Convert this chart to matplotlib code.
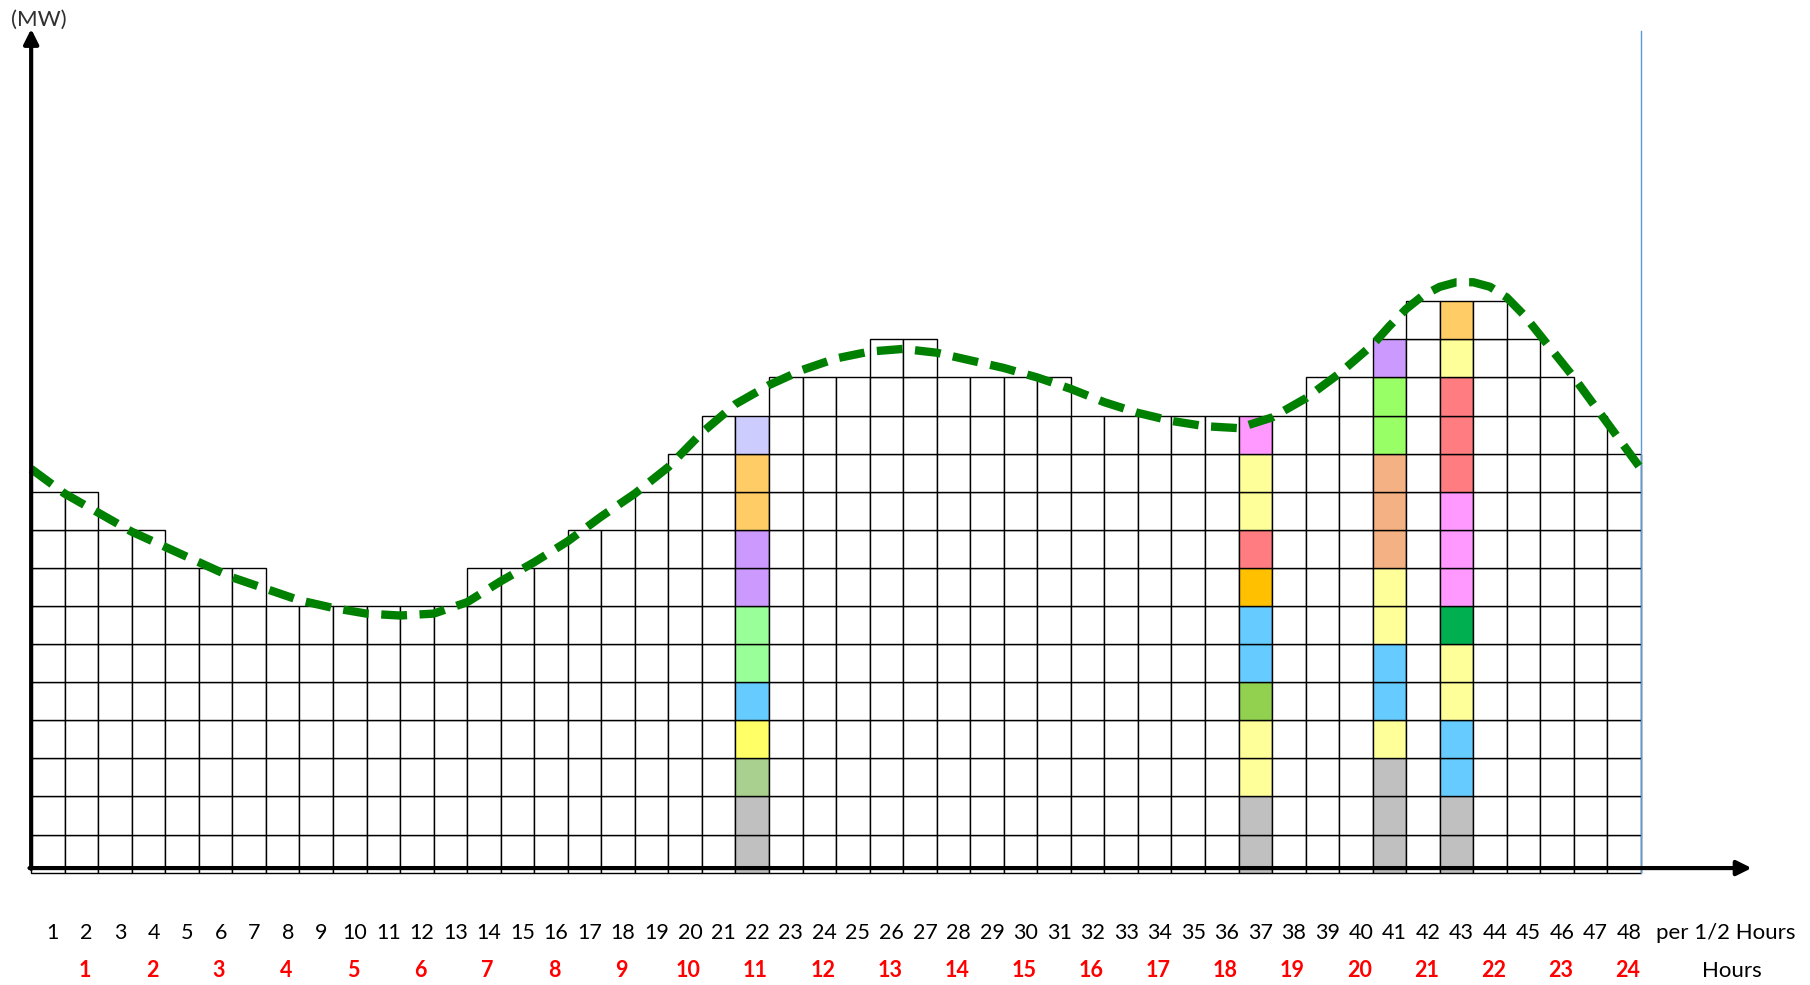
"""Half-hourly load blocks with colored unit stacks and a smooth demand curve."""
import numpy as np
import matplotlib
import matplotlib.pyplot as plt

matplotlib.use("Agg")

# number of grid cells per half hour (48 periods)
heights = [10, 10, 9, 9, 8, 8, 8, 7, 7, 7, 7, 7, 7, 8, 8, 8, 9, 9, 10, 11, 12, 12,
           13, 13, 13, 14, 14, 13, 13, 13, 13, 12, 12, 12, 12, 12, 12, 12, 13, 13,
           14, 15, 15, 15, 14, 13, 12, 11]

# coloured stacks, bottom to top
GR, YL, BL = '#c0c0c0', '#ffff99', '#66ccff'
stack_22 = [GR, GR, '#a9d08e', '#ffff66', BL, '#99ff99', '#99ff99', '#cc99ff',
            '#cc99ff', '#ffcc66', '#ffcc66', '#ccccff']
stack_37 = [GR, GR, YL, YL, '#92d050', BL, BL, '#ffc000', '#ff7c80', YL, YL, '#ff99ff']
stack_41 = [GR, GR, GR, YL, BL, BL, YL, YL, '#f4b183', '#f4b183', '#f4b183',
            '#99ff66', '#99ff66', '#cc99ff']
stack_43 = [GR, GR, BL, BL, YL, YL, '#00b050', '#ff99ff', '#ff99ff', '#ff99ff',
            '#ff7c80', '#ff7c80', '#ff7c80', YL, '#ffcc66']
stacks = {22: stack_22, 37: stack_37, 41: stack_41, 43: stack_43}

# demand curve
curve_x = [0, 1, 2, 3, 4, 5, 6, 7, 8, 9, 10, 11, 12, 13, 14, 15, 16, 17, 18, 19, 20,
           21, 22, 23, 24, 25, 26, 27, 28, 29, 30, 31, 32, 33, 34, 35, 36, 37, 38,
           39, 40, 40.5, 41, 41.5, 42, 42.5, 43, 43.5, 44, 44.5, 45, 46, 47, 48]
curve_y = [10.6, 9.95, 9.45, 8.95, 8.55, 8.15, 7.75, 7.45, 7.15, 6.95, 6.8, 6.75,
           6.8, 7.1, 7.65, 8.15, 8.7, 9.35, 9.95, 10.65, 11.55, 12.3, 12.8, 13.2,
           13.5, 13.68, 13.75, 13.65, 13.45, 13.25, 13.0, 12.7, 12.35, 12.07, 11.86,
           11.72, 11.67, 11.95, 12.45, 13.1, 13.86, 14.35, 14.8, 15.15, 15.38, 15.5,
           15.5, 15.38, 15.1, 14.65, 14.1, 13.0, 11.8, 10.6]

half_hours = [str(i) for i in range(1, 49)]
hours = [str(i) for i in range(1, 25)]

fig = plt.figure(figsize=(18.1, 9.85), dpi=100)
ax = fig.add_axes([0, 0, 1, 1])
ax.set_xlim(-0.929, 53.04)
ax.set_ylim(-2.95, 22.91)
ax.axis('off')

xs, bots, cols = [], [], []
for i, h in enumerate(heights):
    col = i + 1
    for k in range(h):
        xs.append(i)
        bots.append(k)
        if col in stacks:
            cols.append(stacks[col][k])
        else:
            cols.append('white')
ax.bar(xs, [1] * len(xs), width=1, bottom=bots, align='edge', color=cols,
       edgecolor='black', linewidth=1.0, zorder=2)

# thin blue marker at end of day
ax.plot([48, 48], [0, 22.1], color='#5b9bd5', lw=1.0, zorder=3)

# demand curve
ax.plot(curve_x, curve_y, color='#008000', lw=6, dashes=(3.1, 1.5),
        solid_joinstyle='round', zorder=4)

# axes arrows
ax.annotate('', xy=(0, 22.15), xytext=(0, 0.1),
            arrowprops=dict(arrowstyle='-|>', lw=3, color='black', mutation_scale=22,
                            shrinkA=0, shrinkB=0), zorder=5)
ax.annotate('', xy=(51.3, 0.12), xytext=(-0.05, 0.12),
            arrowprops=dict(arrowstyle='-|>', lw=3, color='black', mutation_scale=22,
                            shrinkA=0, shrinkB=0), zorder=5)

fam = ['Lato', 'DejaVu Sans']
ax.text(0.24, 22.4, '(MW)', ha='center', va='center', fontsize=16, color='#303030',
        family=fam)

for i, lab in enumerate(half_hours):
    ax.text(i + 0.65, -1.58, lab, ha='center', va='center', fontsize=15.5, family=fam)
ax.text(48.45, -1.58, 'per 1/2 Hours', ha='left', va='center', fontsize=16, family=fam)

for i, lab in enumerate(hours):
    ax.text(2 * i + 1.6, -2.58, lab, ha='center', va='center', fontsize=15.5,
            color='red', fontweight='bold', family=fam)
ax.text(50.7, -2.58, 'Hours', ha='center', va='center', fontsize=16, family=fam)

fig.savefig('out.png', dpi=100, facecolor='w')
